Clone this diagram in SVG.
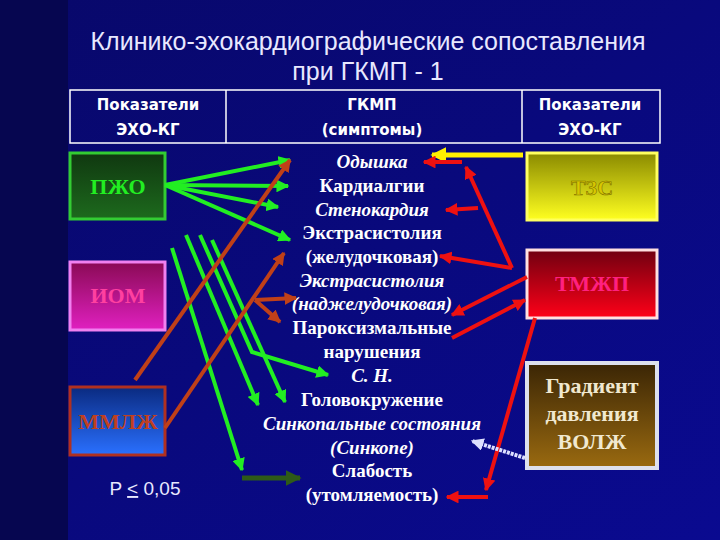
<svg xmlns="http://www.w3.org/2000/svg" width="720" height="540" viewBox="0 0 720 540">
<defs>
<linearGradient id="bg" x1="0" y1="0" x2="1" y2="1"><stop offset="0" stop-color="#08086a"/><stop offset="1" stop-color="#0a0a90"/></linearGradient>
<linearGradient id="g1" x1="0" y1="0" x2="0" y2="1"><stop offset="0" stop-color="#103810"/><stop offset="1" stop-color="#1d6a1d"/></linearGradient>
<linearGradient id="g2" x1="0" y1="0" x2="0" y2="1"><stop offset="0" stop-color="#8a0a55"/><stop offset="1" stop-color="#e020c0"/></linearGradient>
<linearGradient id="g3" x1="0" y1="0" x2="0" y2="1"><stop offset="0" stop-color="#0a2a80"/><stop offset="1" stop-color="#2a70ff"/></linearGradient>
<linearGradient id="g4" x1="0" y1="0" x2="0" y2="1"><stop offset="0" stop-color="#8a8a00"/><stop offset="1" stop-color="#ffff20"/></linearGradient>
<linearGradient id="g5" x1="0" y1="0" x2="0" y2="1"><stop offset="0" stop-color="#700010"/><stop offset="1" stop-color="#ff0018"/></linearGradient>
<linearGradient id="g6" x1="0" y1="0" x2="0" y2="1"><stop offset="0" stop-color="#3a2505"/><stop offset="1" stop-color="#9a6a10"/></linearGradient>
<marker id="mg" viewBox="0 0 10 10" refX="9" refY="5" markerWidth="3.2" markerHeight="3.2" orient="auto"><path d="M0,0L10,5L0,10z" fill="#22ee22"/></marker>
<marker id="md" viewBox="0 0 10 10" refX="9" refY="5" markerWidth="3.2" markerHeight="3.2" orient="auto"><path d="M0,0L10,5L0,10z" fill="#2e5a18"/></marker>
<marker id="mb" viewBox="0 0 10 10" refX="9" refY="5" markerWidth="3.2" markerHeight="3.2" orient="auto"><path d="M0,0L10,5L0,10z" fill="#c04018"/></marker>
<marker id="mr" viewBox="0 0 10 10" refX="9" refY="5" markerWidth="3.2" markerHeight="3.2" orient="auto"><path d="M0,0L10,5L0,10z" fill="#ee1111"/></marker>
<marker id="my" viewBox="0 0 10 10" refX="9" refY="5" markerWidth="3.2" markerHeight="3.2" orient="auto"><path d="M0,0L10,5L0,10z" fill="#ffee00"/></marker>
<marker id="mw" viewBox="0 0 10 10" refX="9" refY="5" markerWidth="3.2" markerHeight="3.2" orient="auto"><path d="M0,0L10,5L0,10z" fill="#dde0ff"/></marker>
</defs>
<style>
.t{font-family:"Liberation Sans",Arial,sans-serif;fill:#e8e8ff;text-anchor:middle}
.h{font-family:"DejaVu Sans","Liberation Sans",sans-serif;font-weight:bold;font-size:15px;fill:#fff;text-anchor:middle}
.s{font-family:"Liberation Serif","Times New Roman",serif;font-weight:bold;font-size:19px;fill:#fff;text-anchor:middle}
.i{font-style:italic}
.n{font-family:"Liberation Serif","Times New Roman",serif;font-weight:bold;font-size:22px;text-anchor:middle}
.g{stroke:#22ee22;stroke-width:4;fill:none;marker-end:url(#mg)}
.b{stroke:#c04018;stroke-width:4;fill:none;marker-end:url(#mb)}
.r{stroke:#ee1111;stroke-width:4;fill:none;marker-end:url(#mr)}
</style>
<rect width="720" height="540" fill="url(#bg)"/>
<rect width="68" height="540" fill="#060650"/>
<text class="t" x="368" y="50" font-size="25">Клинико-эхокардиографические  сопоставления</text>
<text class="t" x="368" y="80" font-size="25">при ГКМП - 1</text>
<g id="header">
<rect x="70" y="90" width="590" height="53" fill="none" stroke="#fff" stroke-width="1.5"/>
<line x1="226" y1="90" x2="226" y2="143" stroke="#fff" stroke-width="1.5"/>
<line x1="522" y1="90" x2="522" y2="143" stroke="#fff" stroke-width="1.5"/>
<text class="h" x="148" y="110">Показатели</text><text class="h" x="148" y="135">ЭХО-КГ</text>
<text class="h" x="372" y="110">ГКМП</text><text class="h" x="372" y="135">(симптомы)</text>
<text class="h" x="590" y="110">Показатели</text><text class="h" x="590" y="135">ЭХО-КГ</text>
</g>
<g id="pzho"><rect x="70" y="153" width="95" height="66" fill="url(#g1)" stroke="#33cc33" stroke-width="3"/><text class="n" x="118" y="194" fill="#22ee22">ПЖО</text></g>
<g id="iom"><rect x="70" y="262" width="95" height="68" fill="url(#g2)" stroke="#f080f0" stroke-width="3"/><text class="n" x="118" y="303" fill="#ff40a0">ИОМ</text></g>
<g id="mmlzh"><rect x="70" y="387" width="95" height="68" fill="url(#g3)" stroke="#b03020" stroke-width="3"/><text class="n" x="118" y="429" fill="#c04020">ММЛЖ</text></g>
<g id="tzs"><rect x="527" y="153" width="130" height="67" fill="url(#g4)" stroke="#ffff60" stroke-width="3"/><text class="n" x="592" y="195" fill="#d8c800" stroke="#807000" stroke-width="0.6">ТЗС</text></g>
<g id="tmzhp"><rect x="527" y="250" width="130" height="68" fill="url(#g5)" stroke="#ffe0e0" stroke-width="3"/><text class="n" x="592" y="291" fill="#ff2080">ТМЖП</text></g>
<g id="grad"><rect x="527" y="363" width="130" height="105" fill="url(#g6)" stroke="#dde0ee" stroke-width="4"/><text class="n" x="592" y="393" fill="#f0e8d0">Градиент</text><text class="n" x="592" y="421" fill="#f0e8d0">давления</text><text class="n" x="592" y="449" fill="#f0e8d0">ВОЛЖ</text></g>
<g id="symptoms">
<text class="s i" x="372" y="168">Одышка</text>
<text class="s" x="372" y="192">Кардиалгии</text>
<text class="s i" x="372" y="216">Стенокардия</text>
<text class="s" x="372" y="239">Экстрасистолия</text>
<text class="s" x="372" y="263">(желудочковая)</text>
<text class="s i" x="372" y="287">Экстрасистолия</text>
<text class="s i" x="372" y="310">(наджелудочковая)</text>
<text class="s" x="372" y="334">Пароксизмальные</text>
<text class="s" x="372" y="358">нарушения</text>
<text class="s i" x="372" y="382">С. Н.</text>
<text class="s" x="372" y="406">Головокружение</text>
<text class="s i" x="372" y="430">Синкопальные состояния</text>
<text class="s i" x="372" y="454">(Синкопе)</text>
<text class="s" x="372" y="477">Слабость</text>
<text class="s" x="372" y="501">(утомляемость)</text>
</g>
<text class="t" x="145" y="495" font-size="19">P <tspan text-decoration="underline">&lt;</tspan> 0,05</text>
<g id="connectors">
<path class="g" d="M165,185L290,160"/>
<path class="g" d="M165,185L288,186"/>
<path class="g" d="M165,185L278,207"/>
<path class="g" d="M165,185L290,240"/>
<path class="g" d="M172,248L242,470"/>
<path class="g" d="M186,235L258,405"/>
<path class="g" d="M200,235L252,352L328,375"/>
<path class="g" d="M212,240L285,402"/>
<path d="M242,478L300,478" stroke="#2e5a18" stroke-width="5" marker-end="url(#md)"/>
<path class="b" d="M135,380L290,160"/>
<path class="b" d="M165,428L284,253"/>
<path class="b" d="M255,300L296,298"/>
<path class="b" d="M255,300L280,322"/>
<path d="M523,155L432,155" stroke="#ffee00" stroke-width="5" marker-end="url(#my)"/>
<path class="r" d="M462,162L424,162"/>
<path class="r" d="M512,268L466,167"/>
<path class="r" d="M478,208L446,210"/>
<path class="r" d="M512,268L440,256"/>
<path class="r" d="M527,277L452,315"/>
<path class="r" d="M452,338L525,300"/>
<path class="r" d="M535,318L486,490"/>
<path class="r" d="M488,497L447,497"/>
<path d="M525,458L472,441" stroke="#dde0ff" stroke-width="4" stroke-dasharray="3,1" marker-end="url(#mw)"/>
</g>
</svg>
